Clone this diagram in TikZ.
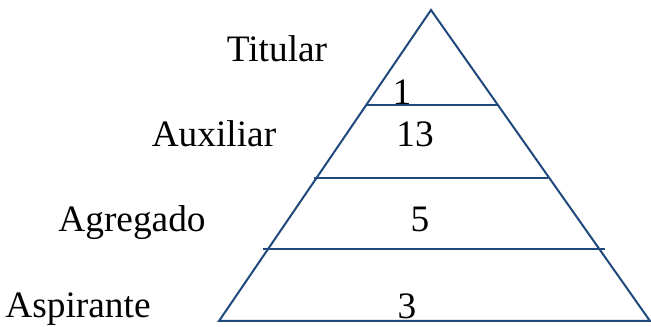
\documentclass[tikz,border=0pt]{standalone}
\usepackage{fontspec}
\setmainfont{Liberation Serif}
\usepackage{xcolor}
\definecolor{pyrblue}{RGB}{31, 73, 125}
\usepackage{tikz}
\usetikzlibrary{positioning, calc}

\begin{document}
\begin{tikzpicture}[x=0.75pt, y=-0.75pt,
        level/.style={draw=pyrblue, line width=1.5pt},
        rank/.style={anchor=base, inner sep=0pt, font=\fontsize{28}{30}\selectfont},
        count/.style={anchor=base, inner sep=0pt, font=\fontsize{28}{30}\selectfont}]

        \useasboundingbox (0,0) rectangle (651,327);

        % triangle
        \coordinate (apex) at (431,10);
        \coordinate (baseL) at (219,321);
        \coordinate (baseR) at (650,321);
        \path [level, line join=miter] (baseL) -- (apex) -- (baseR) -- cycle;

        % level lines
        \coordinate (l1a) at (366,105);  \coordinate (l1b) at (497,105);
        \coordinate (l2a) at (314,178);  \coordinate (l2b) at (548,178);
        \coordinate (l3a) at (263,249);  \coordinate (l3b) at (605,249);
        \path [level] (l1a) -- (l1b);
        \path [level] (l2a) -- (l2b);
        \path [level] (l3a) -- (l3b);

        % ranks
        \node [rank] (titular) at (277,62) {Titular};
        \node [rank] (auxiliar) at (214,147) {Auxiliar};
        \node [rank] (agregado) at (132,232) {Agregado};
        \node [rank] (aspirante) at (78,318) {Aspirante};

        % counts
        \node [count] (ntitular) at (402,105) {1};
        \node [count] (nauxiliar) at (415,147) {13};
        \node [count] (nagregado) at (420,232) {5};
        \node [count] (naspirante) at (407,319) {3};
\end{tikzpicture}
\end{document}
